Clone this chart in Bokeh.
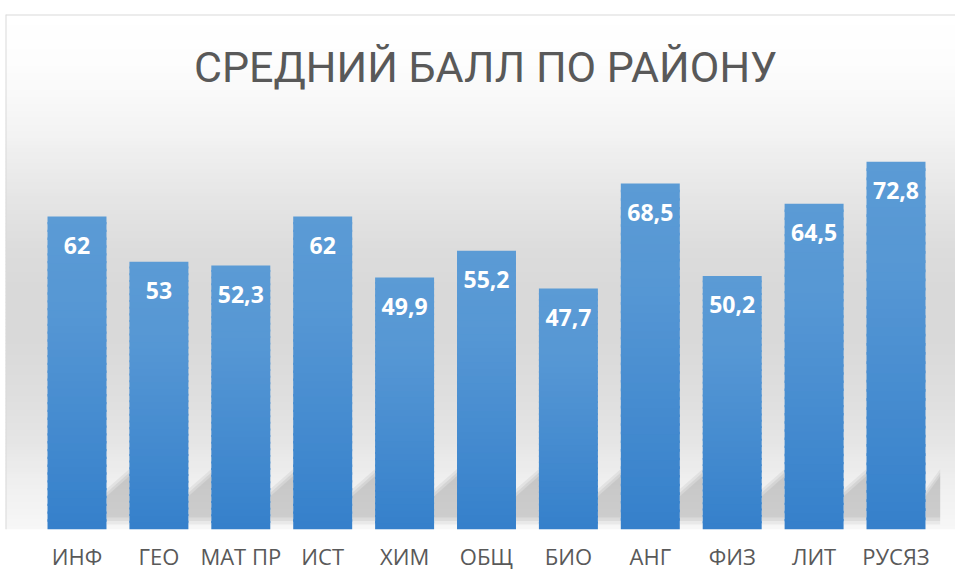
from bokeh.plotting import figure
from bokeh.models import Range1d, FixedTicker, Label, Span, ColumnDataSource
from bokeh.embed import file_html
from bokeh.resources import INLINE
from bokeh.core.properties import value
import numpy as np

# ---- data ----
subjects = ["ИНФ", "ГЕО", "МАТ ПР", "ИСТ", "ХИМ", "ОБЩ", "БИО", "АНГ", "ФИЗ", "ЛИТ", "РУСЯЗ"]
scores = [62, 53, 52.3, 62, 49.9, 55.2, 47.7, 68.5, 50.2, 64.5, 72.8]
title_text = "СРЕДНИЙ БАЛЛ ПО РАЙОНУ"

# ---- layout ----
W, H = 955, 580
frame_left, frame_top, frame_bottom = 5, 14, 529
px_per_cat = 81.9
px_per_unit = 5.05
first_center_px = 76.5
bar_width = 0.72

x0 = -(first_center_px - frame_left) / px_per_cat
x1 = x0 + (W - frame_left) / px_per_cat
y1 = (frame_bottom - frame_top) / px_per_unit

p = figure(width=W, height=H, x_range=Range1d(x0, x1), y_range=Range1d(0, y1),
           output_backend="svg", toolbar_location=None,
           min_border_left=frame_left, min_border_top=frame_top,
           min_border_right=0, min_border_bottom=H - frame_bottom)
p.background_fill_color = "#ffffff"
p.border_fill_color = "#ffffff"
p.outline_line_color = None
p.grid.visible = False
p.yaxis.visible = False


def hexc(r, g, b):
    return "#%02x%02x%02x" % (int(round(r)), int(round(g)), int(round(b)))


# ---- background vertical gradient (screen-pixel stops -> gray level) ----
bg_stops_px = [14, 60, 100, 140, 150, 200, 250, 290, 340, 400, 440, 480, 529]
bg_stops_lv = [255, 253, 248, 242, 239, 229, 220, 217, 217, 223, 229, 239, 247]
n_bands = 150
edges = np.linspace(0, y1, n_bands + 1)
b_bot, b_top, b_col = [], [], []
for k in range(n_bands):
    mid = 0.5 * (edges[k] + edges[k + 1])
    ypx = frame_bottom - mid * px_per_unit
    lv = float(np.interp(ypx, bg_stops_px, bg_stops_lv))
    b_bot.append(edges[k])
    b_top.append(edges[k + 1] + (y1 / n_bands) * 0.3)
    b_col.append(hexc(lv, lv, lv))
p.quad(left=x0, right=x1, bottom=b_bot, top=b_top, fill_color=b_col, line_color=None)

# ---- soft diagonal shadows behind bars ----
n = len(scores)
for shrink, alpha in [(0.0, 0.05), (0.7, 0.06), (1.4, 0.06)]:
    xs, ys = [], []
    for i in range(n):
        xr = i + bar_width / 2
        g = (1 - bar_width) if i < n - 1 else 0.18
        xs.append([xr, xr + g, xr + g, xr])
        ys.append([1.0 + shrink, 1.0 + shrink, 12.0 - shrink, 8.0 - shrink])
    p.patches(xs, ys, fill_color="black", fill_alpha=alpha, line_color=None)

# ---- bars with vertical gradient ----
top_c = np.array([91, 155, 213])
mid_c = np.array([86, 151, 212])
bot_c = np.array([53, 128, 203])
n_seg = 40
sx, sb, st, sc = [], [], [], []
for i, v in enumerate(scores):
    seg = v / n_seg
    for k in range(n_seg):
        t = 1 - (k + 0.5) / n_seg  # 0 at top, 1 at bottom
        if t < 0.3:
            c = top_c + (mid_c - top_c) * (t / 0.3)
        else:
            c = mid_c + (bot_c - mid_c) * ((t - 0.3) / 0.7)
        sx.append(i)
        sb.append(k * seg)
        st.append(min(v, (k + 1) * seg + seg * 0.3))
        sc.append(hexc(*c))
p.vbar(x=sx, bottom=sb, top=st, width=bar_width, fill_color=sc, line_color=None)

# ---- value labels ----
def fmt(v):
    return str(int(v)) if float(v).is_integer() else str(v).replace(".", ",")

src = ColumnDataSource(dict(x=list(range(n)), y=scores, t=[fmt(v) for v in scores]))
p.text(x="x", y="y", text="t", source=src, text_color="white",
       text_font=value("Open Sans"), text_font_style="bold", text_font_size="23px",
       text_align="center", text_baseline="middle", y_offset=29)

# ---- category axis ----
p.xaxis.ticker = FixedTicker(ticks=list(range(n)))
p.xaxis.major_label_overrides = {i: s for i, s in enumerate(subjects)}
p.xaxis.axis_line_color = None
p.xaxis.major_tick_line_color = None
p.xaxis.minor_tick_line_color = None
p.xaxis.major_label_text_font = "Open Sans"
p.xaxis.major_label_text_font_size = "22px"
p.xaxis.major_label_text_color = "#595959"
p.xaxis.major_label_standoff = 5

# ---- chart border (top, left) ----
p.add_layout(Span(location=y1, dimension="width", line_color="#d9d9d9", line_width=2))
p.add_layout(Span(location=x0, dimension="height", line_color="#d9d9d9", line_width=2))

# ---- title ----
p.add_layout(Label(x=480, y=frame_bottom - 66, x_units="screen", y_units="screen",
                   text=title_text, text_align="center", text_baseline="middle",
                   text_font="Roboto", text_font_size="43px",
                   text_color="#595959"))

open("out.html", "w").write(file_html(p, INLINE))
